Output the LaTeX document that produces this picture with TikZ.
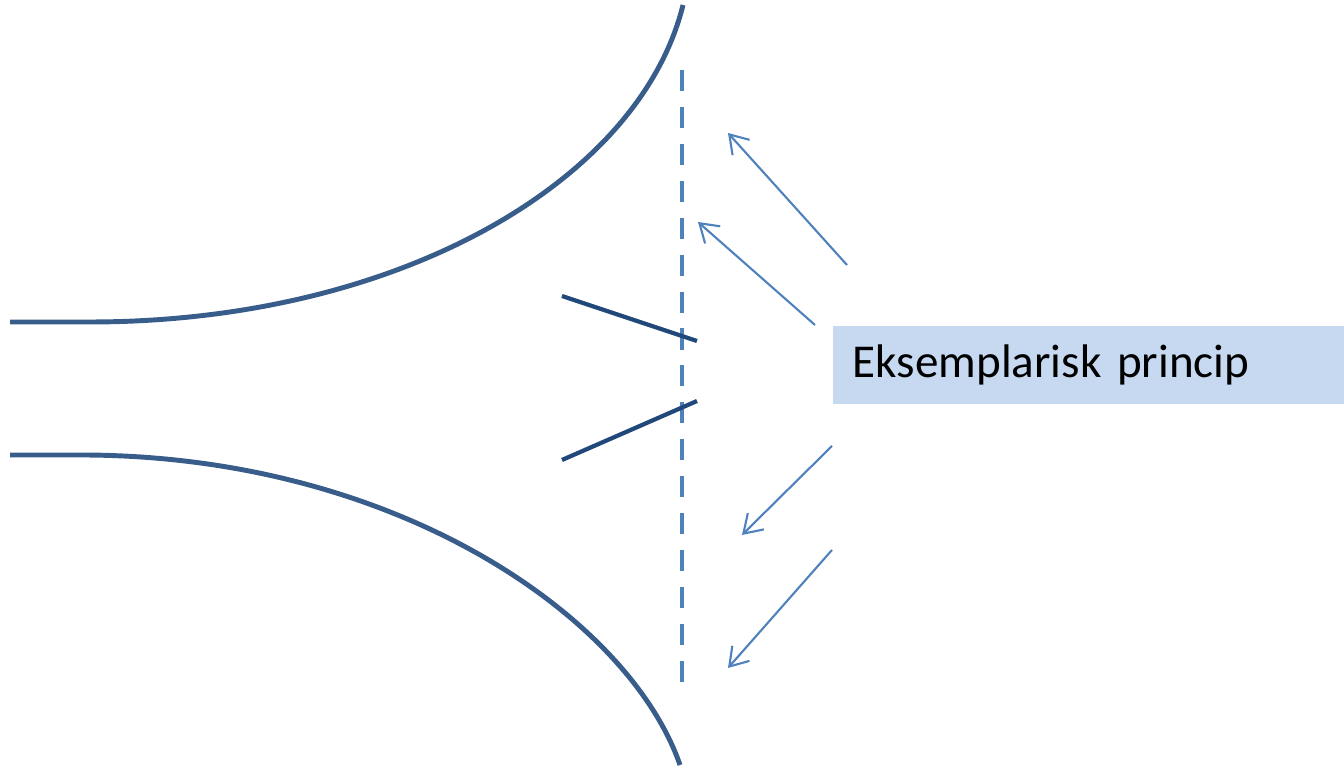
\documentclass[tikz,border=0pt]{standalone}
\usepackage{fontspec}
\setmainfont{Carlito}
\usetikzlibrary{arrows.meta}
\definecolor{curveblue}{HTML}{385D8A}
\definecolor{lineblue}{HTML}{21487A}
\definecolor{midblue}{HTML}{4F81BD}
\definecolor{boxblue}{HTML}{C6D9F1}

\begin{document}
\begin{tikzpicture}[x=0.01cm, y=-0.01cm,
    funnel/.style={curveblue, line width=1.4pt},
    slant/.style={lineblue, line width=1.2pt},
    pointer/.style={midblue, line width=0.6pt, -{Straight Barb[length=5pt,width=6.5pt]}}]
    \useasboundingbox (0,0) rectangle (1344,771);

    % Funnel walls
    \draw[funnel] (10,322) -- (90,322) .. controls (400,322) and (640,180) .. (683,5);
    \draw[funnel] (10,455) -- (80,455) .. controls (400,455) and (630,620) .. (680,765);

    % Dividing line
    \draw[midblue, line width=1.1pt, dash pattern=on 6pt off 4.5pt] (682,70) -- (682,688);

    % Slanted strokes
    \draw[slant] (562,296) -- (697,341);
    \draw[slant] (562,460) -- (697,401);

    % Label
    \node[fill=boxblue, anchor=west, minimum width=5.12cm, minimum height=0.78cm,
          text width=4.72cm, inner xsep=0.2cm, align=left,
          font=\fontsize{13.4}{15}\selectfont] (princip) at (832,365) {Eksemplarisk princip};

    % Arrows
    \coordinate (t1) at (847,265); \coordinate (h1) at (728,133);
    \coordinate (t2) at (815,325); \coordinate (h2) at (698,222);
    \coordinate (t3) at (832,446); \coordinate (h3) at (742,535);
    \coordinate (t4) at (832,550); \coordinate (h4) at (728,668);
    \foreach \i in {1,...,4}
        \draw[pointer] (t\i) -- (h\i);
\end{tikzpicture}
\end{document}
